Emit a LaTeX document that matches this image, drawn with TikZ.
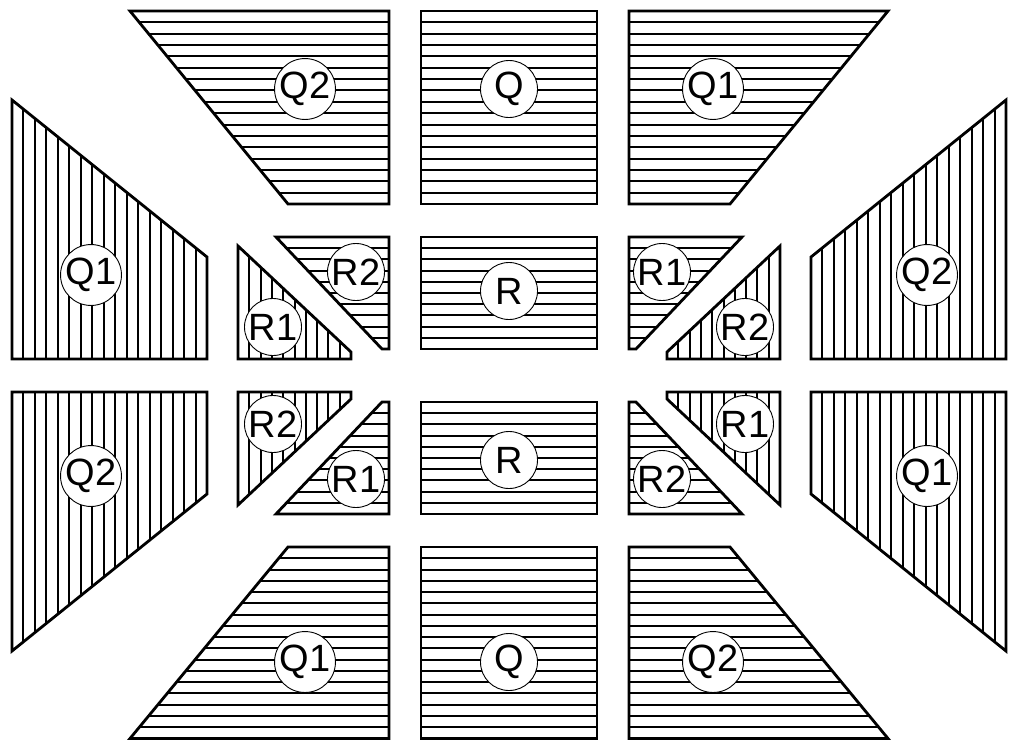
\documentclass[tikz,border=0pt]{standalone}
\usepackage{fontspec}
\newfontfamily\labfont{Liberation Sans}
\tikzset{
  outline/.style={draw=black, line width=2.8pt, line join=miter},
  hatch/.style={draw=black, line width=2pt},
  lab/.style={circle, draw=black, fill=white, line width=0.9pt, minimum size=57pt, inner sep=0pt, font={\labfont\fontsize{38}{40}\selectfont}}
}
% horizontal hatching: #1 polygon, #2 top y, #3 bottom y, #4 intervals
\newcommand\HHatch[4]{%
  \begin{scope}
    \clip #1 -- cycle;
    \pgfmathtruncatemacro\nlast{#4-1}
    \foreach \k in {1,...,\nlast}
      \draw[hatch] (0,{#2+\k*(#3-#2)/#4}) -- (1011,{#2+\k*(#3-#2)/#4});
  \end{scope}
  \draw[outline] #1 -- cycle;}
% vertical hatching: #1 polygon, #2 left x, #3 right x, #4 intervals
\newcommand\VHatch[4]{%
  \begin{scope}
    \clip #1 -- cycle;
    \pgfmathtruncatemacro\nlast{#4-1}
    \foreach \k in {1,...,\nlast}
      \draw[hatch] ({#2+\k*(#3-#2)/#4},0) -- ({#2+\k*(#3-#2)/#4},740);
  \end{scope}
  \draw[outline] #1 -- cycle;}
\begin{document}
\begin{tikzpicture}[x=1pt,y=-1pt]
\useasboundingbox (0,0) rectangle (1011,740);
% top row
\HHatch{(130,11) -- (389,11) -- (389,204) -- (288,204)}{11}{204}{17}
\HHatch{(421,11) -- (597,11) -- (597,204) -- (421,204)}{11}{204}{17}
\HHatch{(629,11) -- (888,11) -- (730,204) -- (629,204)}{11}{204}{17}
% upper middle row
\VHatch{(12,100) -- (12,359) -- (207,359) -- (207,257)}{12}{207}{17}
\VHatch{(238,246) -- (238,359) -- (351,359) -- (351,352)}{238}{351}{10}
\HHatch{(276,237) -- (389,237) -- (389,349) -- (382,349)}{237}{349}{10}
\HHatch{(421,237) -- (597,237) -- (597,349) -- (421,349)}{237}{349}{10}
\HHatch{(629,237) -- (742,237) -- (636,349) -- (629,349)}{237}{349}{10}
\VHatch{(667,359) -- (667,352) -- (780,246) -- (780,359)}{667}{780}{10}
\VHatch{(811,257) -- (1006,100) -- (1006,359) -- (811,359)}{811}{1006}{17}
% lower middle row
\VHatch{(12,651) -- (12,392) -- (207,392) -- (207,494)}{12}{207}{17}
\VHatch{(238,505) -- (238,392) -- (351,392) -- (351,399)}{238}{351}{10}
\HHatch{(276,514) -- (389,514) -- (389,402) -- (382,402)}{402}{514}{10}
\HHatch{(421,402) -- (597,402) -- (597,514) -- (421,514)}{402}{514}{10}
\HHatch{(629,514) -- (742,514) -- (636,402) -- (629,402)}{402}{514}{10}
\VHatch{(667,392) -- (667,399) -- (780,505) -- (780,392)}{667}{780}{10}
\VHatch{(811,494) -- (1006,651) -- (1006,392) -- (811,392)}{811}{1006}{17}
% bottom row
\HHatch{(130,738.5) -- (389,738.5) -- (389,547) -- (288,547)}{547}{738.5}{17}
\HHatch{(421,547) -- (597,547) -- (597,738.5) -- (421,738.5)}{547}{738.5}{17}
\HHatch{(629,547) -- (730,547) -- (888,738.5) -- (629,738.5)}{547}{738.5}{17}
% labels
\node[lab] (tq2) at (305,89) {Q2};
\node[lab] (tq)  at (509,89) {Q};
\node[lab] (tq1) at (713,89) {Q1};
\node[lab] (lq1) at (91,275) {Q1};
\node[lab] (lr1) at (273,327) {R1};
\node[lab] (lr2) at (356,272) {R2};
\node[lab] (cr1) at (509,291) {R};
\node[lab] (rr1) at (662,272) {R1};
\node[lab] (rr2) at (745,327) {R2};
\node[lab] (rq2) at (927,275) {Q2};
\node[lab] (lq2) at (91,476) {Q2};
\node[lab] (lr2b) at (273,424) {R2};
\node[lab] (lr1b) at (356,479) {R1};
\node[lab] (cr2) at (509,460) {R};
\node[lab] (rr2b) at (662,479) {R2};
\node[lab] (rr1b) at (745,424) {R1};
\node[lab] (rq1) at (927,476) {Q1};
\node[lab] (bq1) at (305,662) {Q1};
\node[lab] (bq)  at (509,662) {Q};
\node[lab] (bq2) at (713,662) {Q2};
\end{tikzpicture}
\end{document}
